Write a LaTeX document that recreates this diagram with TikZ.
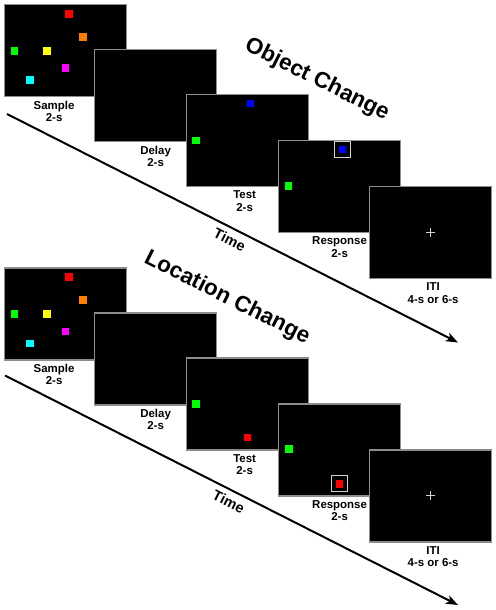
\documentclass[tikz,border=0pt]{standalone}
\usepackage{fontspec}
\setmainfont{Liberation Sans}
\usetikzlibrary{arrows.meta, positioning, calc}
\definecolor{rim}{gray}{0.55}
\definecolor{probeline}{gray}{0.82}
\definecolor{stimred}{RGB}{255,0,0}
\definecolor{stimorange}{RGB}{255,128,0}
\definecolor{stimgreen}{RGB}{0,255,0}
\definecolor{stimyellow}{RGB}{255,255,0}
\definecolor{stimmagenta}{RGB}{255,0,255}
\definecolor{stimcyan}{RGB}{0,255,255}
\definecolor{stimblue}{RGB}{0,0,255}

\begin{document}
\begin{tikzpicture}[
    x=1bp, y=-1bp,
    screen/.style={draw=rim, line width=1.2bp, fill=black, anchor=north west,
                   minimum width=122bp, minimum height=92bp, inner sep=0pt},
    stim/.style={minimum size=7.5bp, inner sep=0pt},
    probe/.style={draw=probeline, line width=1.2bp, minimum size=16bp, inner sep=0pt},
    lbl/.style={align=center, font=\fontsize{11.5}{12.5}\selectfont\bfseries, inner sep=0pt},
    cond/.style={font=\fontsize{22.5}{24}\selectfont\bfseries, rotate=-26.6, inner sep=0pt},
    timeline/.style={line width=2bp, -{Stealth[length=12bp, width=9bp, inset=3bp]}},
    fix/.style={draw=probeline, line width=0.9bp}
  ]
  \useasboundingbox (0,0) rectangle (496,610);

  % object change
  \node[screen] (samp1) at (4,4) {};
  \node[stim, fill=stimred] (samp1r) at ($(samp1.north west)+(64.8,9.8)$) {};
  \node[stim, fill=stimorange] (samp1o) at ($(samp1.north west)+(78.8,32.8)$) {};
  \node[stim, fill=stimgreen] (samp1g) at ($(samp1.north west)+(10.3,46.8)$) {};
  \node[stim, fill=stimyellow] (samp1y) at ($(samp1.north west)+(43,46.8)$) {};
  \node[stim, fill=stimmagenta] (samp1m) at ($(samp1.north west)+(61.7,64)$) {};
  \node[stim, fill=stimcyan] (samp1c) at ($(samp1.north west)+(26,76)$) {};
  \node[screen] (delay1) at (94,49) {};
  \node[screen] (test1) at (186,94) {};
  \node[stim, fill=stimblue] (test1b) at ($(test1.north west)+(64.5,9.7)$) {};
  \node[stim, fill=stimgreen] (test1g) at ($(test1.north west)+(10.2,46.7)$) {};
  \node[screen] (resp1) at (278,140) {};
  \node[stim, fill=stimblue] (resp1b) at ($(resp1.north west)+(64.5,9.5)$) {};
  \node[probe] (resp1box) at (resp1b) {};
  \node[stim, fill=stimgreen] (resp1g) at ($(resp1.north west)+(10.5,46.2)$) {};
  \node[screen] (iti1) at (369,186) {};
  \draw[fix] ($(iti1.center)+(-4.5,0)$) -- ($(iti1.center)+(4.5,0)$);
  \draw[fix] ($(iti1.center)+(0,-4.5)$) -- ($(iti1.center)+(0,4.5)$);

  \node[lbl, below=3.5bp of samp1, xshift=-11.5bp] (samp1lbl) {Sample\\2-s};
  \node[lbl, below=3.5bp of delay1] (delay1lbl) {Delay\\2-s};
  \node[lbl, below=3.5bp of test1, xshift=-3bp] (test1lbl) {Test\\2-s};
  \node[lbl, below=3.5bp of resp1] (resp1lbl) {Response\\2-s};
  \node[lbl, below=3.5bp of iti1, xshift=2.5bp] (iti1lbl) {ITI\\4-s or 6-s};
  \node[cond] (objchg) at (317,80) {Object Change};

  \coordinate (t1start) at (7,114);
  \coordinate (t1end) at (458,342.5);
  \draw[timeline] (t1start) -- node[pos=0.505, sloped, below=5bp, inner sep=0pt,
      font=\fontsize{14.5}{16}\selectfont\bfseries] (time1) {Time} (t1end);

  % location change
  \node[screen] (samp2) at (4,267.3) {};
  \node[stim, fill=stimred] (samp2r) at ($(samp2.north west)+(64.8,9.5)$) {};
  \node[stim, fill=stimorange] (samp2o) at ($(samp2.north west)+(78.8,32.5)$) {};
  \node[stim, fill=stimgreen] (samp2g) at ($(samp2.north west)+(10.3,46.8)$) {};
  \node[stim, fill=stimyellow] (samp2y) at ($(samp2.north west)+(43,46.8)$) {};
  \node[stim, fill=stimmagenta] (samp2m) at ($(samp2.north west)+(61.7,64)$) {};
  \node[stim, fill=stimcyan] (samp2c) at ($(samp2.north west)+(26,76)$) {};
  \node[screen] (delay2) at (94,312.3) {};
  \node[screen] (test2) at (186,357.3) {};
  \node[stim, fill=stimgreen] (test2g) at ($(test2.north west)+(10.2,46.7)$) {};
  \node[stim, fill=stimred] (test2r) at ($(test2.north west)+(61.3,80.4)$) {};
  \node[screen] (resp2) at (278,403.3) {};
  \node[stim, fill=stimgreen] (resp2g) at ($(resp2.north west)+(10.8,45.9)$) {};
  \node[stim, fill=stimred] (resp2r) at ($(resp2.north west)+(61.7,80.5)$) {};
  \node[probe] (resp2box) at (resp2r) {};
  \node[screen] (iti2) at (369,449.3) {};
  \draw[fix] ($(iti2.center)+(-4.5,0)$) -- ($(iti2.center)+(4.5,0)$);
  \draw[fix] ($(iti2.center)+(0,-4.5)$) -- ($(iti2.center)+(0,4.5)$);

  \node[lbl, below=3.5bp of samp2, xshift=-11.5bp] (samp2lbl) {Sample\\2-s};
  \node[lbl, below=3.5bp of delay2] (delay2lbl) {Delay\\2-s};
  \node[lbl, below=3.5bp of test2, xshift=-3bp] (test2lbl) {Test\\2-s};
  \node[lbl, below=3.5bp of resp2] (resp2lbl) {Response\\2-s};
  \node[lbl, below=3.5bp of iti2, xshift=2.5bp] (iti2lbl) {ITI\\4-s or 6-s};
  \node[cond] (locchg) at (227,298) {Location Change};

  \coordinate (t2start) at (5,375.5);
  \coordinate (t2end) at (458,605);
  \draw[timeline] (t2start) -- node[pos=0.505, sloped, below=5bp, inner sep=0pt,
      font=\fontsize{14.5}{16}\selectfont\bfseries] (time2) {Time} (t2end);
\end{tikzpicture}
\end{document}
